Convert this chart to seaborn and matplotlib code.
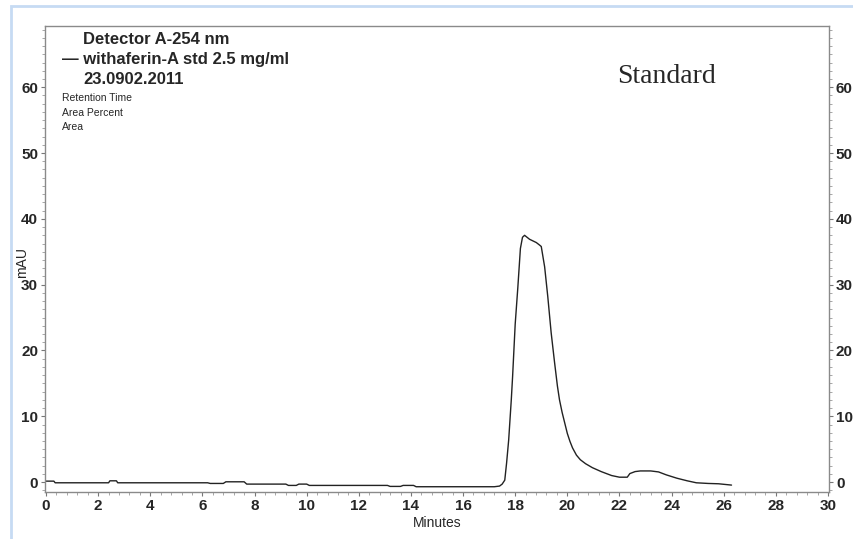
import numpy as np
import pandas as pd
import seaborn as sns
import matplotlib.pyplot as plt
from matplotlib.ticker import AutoMinorLocator
from matplotlib.patches import Rectangle

# chromatogram trace (minutes, mAU)
minutes = [0.0, 0.3, 0.35, 2.4, 2.45, 2.7, 2.75, 6.2, 6.3, 6.8, 6.9, 7.6, 7.7, 9.2,
           9.3, 9.6, 9.7, 10.0, 10.1, 13.1, 13.2, 13.6, 13.7, 14.1, 14.2, 17.2, 17.4,
           17.5, 17.6, 17.67, 17.75, 17.85, 17.9, 18.0, 18.1, 18.2, 18.28, 18.36, 18.55,
           18.81, 18.94, 19.0, 19.13, 19.25, 19.38, 19.51, 19.62, 19.7, 19.8, 19.9,
           20.0, 20.1, 20.2, 20.35, 20.5, 20.7, 20.96, 21.3, 21.7, 22.0, 22.3, 22.4,
           22.6, 22.8, 23.2, 23.5, 23.8, 24.2, 24.6, 24.95, 25.4, 25.8, 26.3]
mau = [0.15, 0.15, -0.1, -0.1, 0.2, 0.2, -0.1, -0.1, -0.2, -0.2, 0.05, 0.05, -0.3, -0.3,
       -0.5, -0.5, -0.3, -0.3, -0.5, -0.5, -0.65, -0.65, -0.5, -0.5, -0.7, -0.7, -0.6,
       -0.3, 0.3, 2.9, 6.4, 12.5, 16.0, 24.0, 29.5, 35.5, 37.2, 37.5, 36.9,
       36.4, 36.0, 35.8, 32.7, 28.2, 22.7, 18.2, 14.6, 12.5, 10.6, 9.0,
       7.4, 6.2, 5.2, 4.1, 3.4, 2.8, 2.2, 1.6, 1.0, 0.75, 0.75, 1.3,
       1.6, 1.7, 1.7, 1.55, 1.1, 0.6, 0.2, -0.1, -0.2, -0.25, -0.45]

x_ticks = list(range(0, 31, 2))
y_ticks = [0, 10, 20, 30, 40, 50, 60]
header = ["Detector A-254 nm", "\u2014 withaferin-A std 2.5 mg/ml", "23.0902.2011"]
sub_header = ["Retention Time", "Area Percent", "Area"]

df = pd.DataFrame({"Minutes": minutes, "mAU": mau})

sns.set_style("white")
plt.rcParams["font.family"] = ["Liberation Sans", "DejaVu Sans"]

fig = plt.figure(figsize=(8.54, 5.39), dpi=100)
# light blue page frame
fig.patches.append(Rectangle((11 / 854, -0.1), 1.2, 1 - 6 / 539 + 0.1,
                             transform=fig.transFigure, fill=False,
                             edgecolor="#c6dbf3", linewidth=2))
ax = fig.add_axes([45 / 854, 1 - 492 / 539, (829 - 45) / 854, (492 - 26) / 539])

sns.lineplot(data=df, x="Minutes", y="mAU", ax=ax, color="#222222", linewidth=1,
             estimator=None, sort=False)

ax.set_xlim(-0.04, 30.04)
ax.set_ylim(-1.5, 69.3)
ax.set_xticks(x_ticks)
ax.set_yticks(y_ticks)
ax.xaxis.set_minor_locator(AutoMinorLocator(5))
ax.yaxis.set_minor_locator(AutoMinorLocator(8))
ax.tick_params(axis="both", which="major", direction="out", length=3, width=0.8,
               color="#777777", labelsize=11, pad=2)
ax.tick_params(axis="both", which="minor", direction="out", length=2, width=0.6,
               color="#999999")
ax.tick_params(axis="y", which="both", left=True, right=True, labelright=True)
ax.tick_params(axis="x", which="both", bottom=True)
for lab in ax.get_xticklabels() + ax.get_yticklabels():
    lab.set_fontweight("bold")
for t in ax.yaxis.get_major_ticks():
    t.label2.set_fontweight("bold")
    t.label2.set_fontsize(11)

for s in ax.spines.values():
    s.set_color("#8a8a8a")
    s.set_linewidth(1)

ax.set_xlabel("Minutes", fontsize=10, labelpad=2)
ax.set_ylabel("")
fig.text(22 / 854, 1 - 263 / 539, "mAU", rotation=90, fontsize=10,
         ha="center", va="center")

for i, line in enumerate(header):
    xpos = 62 if line.startswith("\u2014") else 83
    fig.text(xpos / 854, 1 - (40 + 20 * i) / 539, line, fontsize=12,
             fontweight="bold", ha="left", va="center")
for i, line in enumerate(sub_header):
    fig.text(62 / 854, 1 - (98 + 14.5 * i) / 539, line, fontsize=7.5,
             ha="left", va="center")

fig.text(667 / 854, 1 - 77 / 539, "Standard", fontsize=20,
         family="Liberation Serif", ha="center", va="center")

fig.savefig("out.png", dpi=100)
